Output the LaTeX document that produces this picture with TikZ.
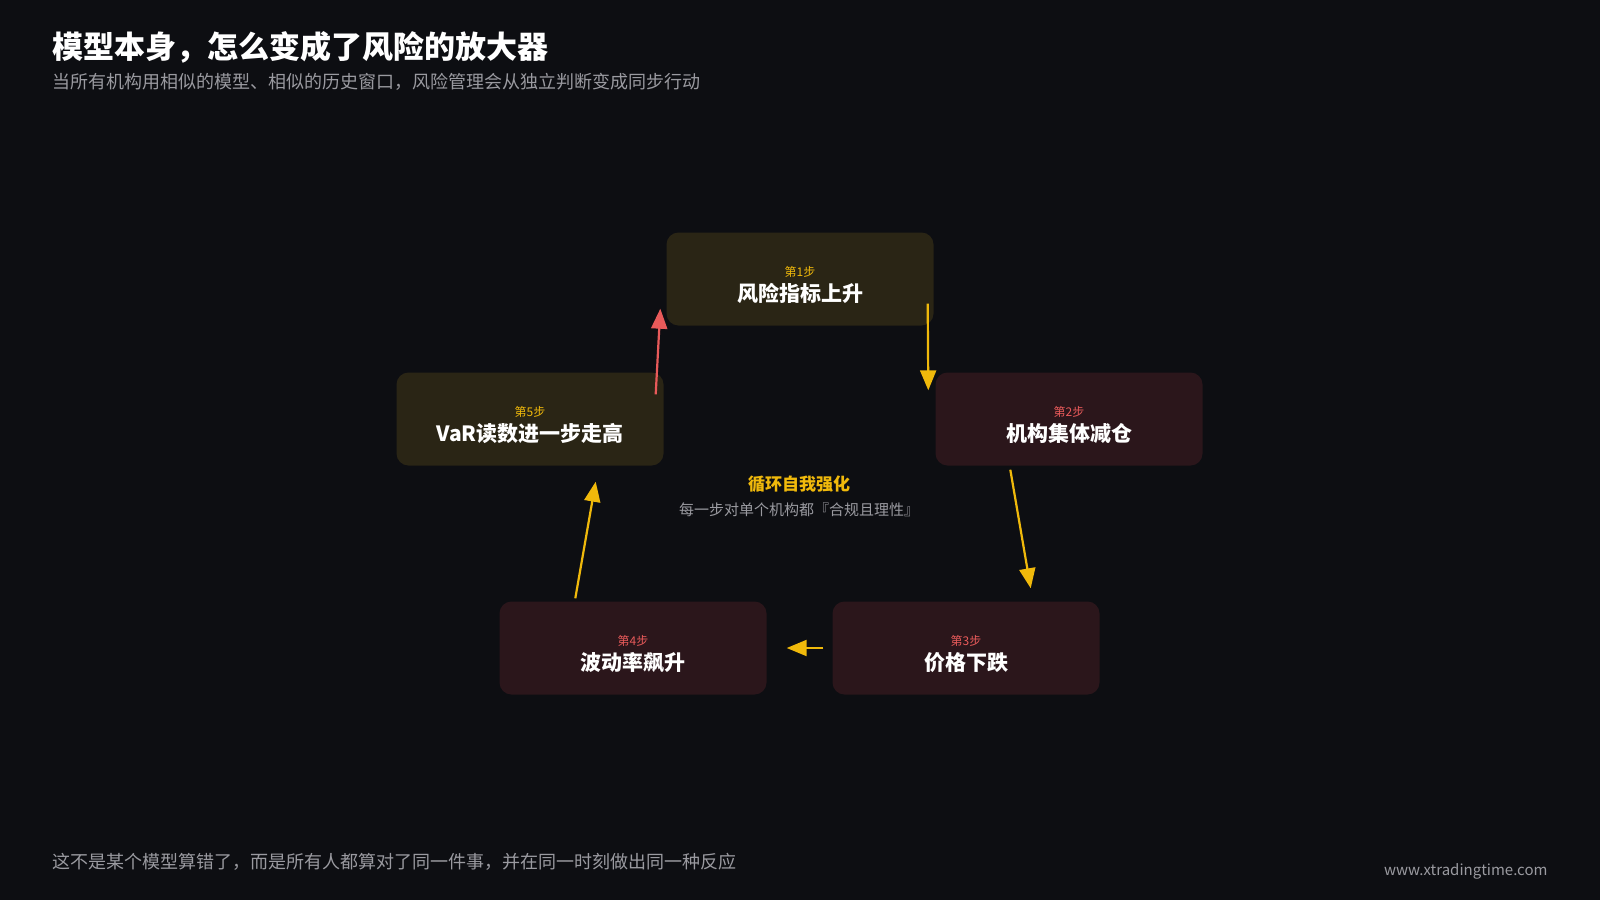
\documentclass[tikz,border=0pt]{standalone}
\usepackage{fontspec}
\setmainfont{Noto Sans CJK SC}
\usetikzlibrary{arrows.meta,positioning}
\definecolor{bgc}{HTML}{0D0E12}
\definecolor{ylw}{HTML}{F0B90B}
\definecolor{rdc}{HTML}{E85A5A}
\definecolor{yfill}{HTML}{2A2515}
\definecolor{rfill}{HTML}{2B161B}
\definecolor{grayt}{HTML}{9A9AA0}
\tikzset{
  stepnode/.style = {rectangle, rounded corners=12pt, minimum width=267pt,
      minimum height=93pt, align=center, text=white, inner sep=0pt},
  ybox/.style = {stepnode, fill=yfill},
  rbox/.style = {stepnode, fill=rfill},
  flow/.style = {draw=ylw, line width=2.2pt, -{Triangle[length=20pt,width=16pt]}},
  back/.style = {flow, draw=rdc},
}
\newcommand{\stepbox}[3]{{\rule{0pt}{22pt}\fontsize{12}{14}\selectfont\color{#1}#2}\\[5pt]{\fontsize{21}{24}\selectfont\bfseries #3}}
\begin{document}
\begin{tikzpicture}[x=1pt,y=-1pt]
\fill[bgc] (0,0) rectangle (1600,900);
% title
\node[anchor=west, text=white, font=\fontsize{31}{34}\selectfont\bfseries] (title) at (49,47) {模型本身，怎么变成了风险的放大器};
\node[anchor=west, text=grayt, font=\fontsize{18}{21}\selectfont] (sub) at (49,82) {当所有机构用相似的模型、相似的历史窗口，风险管理会从独立判断变成同步行动};
% steps
\node[ybox] (s1) at (800,279) {\stepbox{ylw}{第1步}{风险指标上升}};
\node[rbox] (s2) at (1069,419) {\stepbox{rdc}{第2步}{机构集体减仓}};
\node[rbox] (s3) at (966,648) {\stepbox{rdc}{第3步}{价格下跌}};
\node[rbox] (s4) at (633,648) {\stepbox{rdc}{第4步}{波动率飙升}};
\node[ybox] (s5) at (530,419) {\stepbox{ylw}{第5步}{VaR读数进一步走高}};
% center
\node[text=ylw, font=\fontsize{17}{20}\selectfont\bfseries] (loop) at (799,484) {循环自我强化};
\node[text=grayt, font=\fontsize{15}{17}\selectfont, below=3pt of loop] (note) {每一步对单个机构都『合规且理性』};
% arrows
\draw[flow] ([xshift=-6pt,yshift=22pt]s1.south east) -- ([xshift=-7pt,yshift=-18pt]s2.north west);
\draw[flow] ([xshift=75pt,yshift=-4pt]s2.south west) -- ([xshift=-69pt,yshift=13pt]s3.north east);
\draw[flow] ([xshift=-9pt]s3.west) -- ([xshift=20pt]s4.east);
\draw[flow] ([xshift=76pt,yshift=3pt]s4.north west) -- ([xshift=-68pt,yshift=-16pt]s5.south east);
\draw[back] ([xshift=-8pt,yshift=-22pt]s5.north east) -- ([xshift=-6pt,yshift=17pt]s1.south west);
% footer
\node[anchor=west, text=grayt, font=\fontsize{18}{21}\selectfont] (foot) at (49,862) {这不是某个模型算错了，而是所有人都算对了同一件事，并在同一时刻做出同一种反应};
\node[anchor=east, text=grayt, font=\fontsize{15}{17}\selectfont] (web) at (1551,871) {www.xtradingtime.com};
\end{tikzpicture}
\end{document}
